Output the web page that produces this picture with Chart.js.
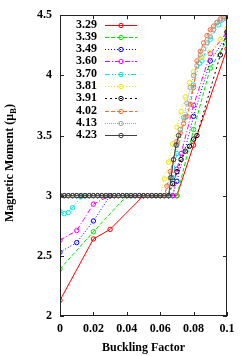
<!DOCTYPE html>
<html>
<head>
<meta charset="utf-8">
<script src="https://cdn.jsdelivr.net/npm/chart.js@4/dist/chart.umd.min.js"></script>
<style>
html, body { margin: 0; padding: 0; background: #fff; }
#wrap { width: 249px; height: 356px; }
</style>
</head>
<body>
<div id="wrap"><canvas id="c"></canvas></div>
<script>
// series labels (legend)
const labels = ['3.29', '3.39', '3.49', '3.60', '3.70', '3.81', '3.91', '4.02', '4.13', '4.23']

// tick values
const xTicks = [0, 0.02, 0.04, 0.06, 0.08, 0.1]
const yTicks = [2, 2.5, 3, 3.5, 4, 4.5]

// dense points along the plateau at 3 muB
const xFlat = [0, 0.0025, 0.005, 0.0075, 0.01, 0.0125, 0.015, 0.0175, 0.02, 0.0225, 0.025, 0.0275, 0.03,
    0.0325, 0.035, 0.0375, 0.04, 0.0425, 0.045, 0.0475, 0.05, 0.0525, 0.055, 0.0575, 0.06, 0.0625, 0.065]
const yFlat = [3, 3, 3, 3, 3, 3, 3, 3, 3, 3, 3, 3, 3, 3, 3, 3, 3, 3, 3, 3, 3, 3, 3, 3, 3, 3, 3]

const x329 = [0, 0.02, 0.03, 0.05, 0.07, 0.08, 0.1]
const y329 = [2.13, 2.64, 2.72, 3.0, 3.0, 3.42, 4.22]

const x339 = [0, 0.02, 0.04, 0.07, 0.08, 0.09, 0.1]
const y339 = [2.39, 2.70, 3.0, 3.0, 3.55, 4.06, 4.29]

const x349 = [0, 0.01, 0.02, 0.03, 0.0675, 0.07, 0.08, 0.09, 0.1]
const y349 = [2.53, 2.61, 2.79, 3.0, 3.0, 3.12, 3.66, 4.12, 4.33]

const x360 = [0, 0.01, 0.02, 0.03, 0.0675, 0.07, 0.0725, 0.08, 0.09, 0.1]
const y360 = [2.63, 2.71, 2.93, 3.0, 3.0, 3.22, 3.35, 3.75, 4.18, 4.36]

const x370 = [0, 0.0025, 0.005, 0.0075, 0.0125, 0.015, 0.065, 0.0675, 0.07, 0.075, 0.08, 0.0835, 0.085, 0.09, 0.095, 0.1]
const y370 = [2.87, 2.85, 2.86, 2.9, 2.99, 3.0, 3.0, 3.15, 3.35, 3.65, 3.92, 4.1, 4.12, 4.3, 4.42, 4.47]

const x381 = [0, 0.06, 0.0625, 0.065, 0.0675, 0.07, 0.0725, 0.075, 0.0775, 0.08, 0.085, 0.0895, 0.096, 0.1]
const y381 = [3.0, 3.0, 3.14, 3.28, 3.43, 3.57, 3.7, 3.82, 3.94, 4.03, 4.15, 4.19, 4.3, 4.39]

const x391 = xFlat.concat([0.0675, 0.07, 0.0725, 0.075, 0.0775, 0.08, 0.082, 0.096, 0.1])
const y391 = yFlat.concat([3.1, 3.2, 3.3, 3.37, 3.41, 3.47, 3.5, 4.17, 4.36])

const x402 = [0, 0.0625, 0.064, 0.066, 0.068, 0.07, 0.072, 0.074, 0.076, 0.078, 0.08, 0.082, 0.084, 0.086, 0.088, 0.09, 0.092, 0.094, 0.096, 0.098]
const y402 = [3.0, 3.0, 3.08, 3.2, 3.3, 3.45, 3.52, 3.6, 3.66, 3.76, 3.9, 4.12, 4.2, 4.27, 4.33, 4.38, 4.41, 4.44, 4.47, 4.49]

const x413 = [0, 0.063, 0.066, 0.068, 0.07, 0.072, 0.074, 0.076, 0.078, 0.08, 0.082, 0.084, 0.086, 0.088, 0.09, 0.092, 0.094, 0.096, 0.098, 0.1]
const y413 = [3.0, 3.0, 3.15, 3.3, 3.42, 3.55, 3.65, 3.77, 3.9, 4.0, 4.08, 4.17, 4.22, 4.27, 4.32, 4.38, 4.44, 4.46, 4.48, 4.5]

const x423 = xFlat.concat([0.0665, 0.068, 0.0695, 0.071])
const y423 = yFlat.concat([3.15, 3.3, 3.42, 3.5])

const xs = [x329, x339, x349, x360, x370, x381, x391, x402, x413, x423]
const ys = [y329, y339, y349, y360, y370, y381, y391, y402, y413, y423]

const colors = ['#ff0000', '#00e600', '#0000ff', '#ff00ff', '#00e8e8', '#e8e800', '#000000', '#ff6a30', '#a0a0a0', '#404040']
const dashes = [[], [4, 2], [1, 2], [5, 2, 1, 2], [5, 2, 1, 2, 1, 2], [1, 2], [2, 3], [4, 2], [1, 1], []]

const serif = "'Liberation Serif', 'DejaVu Serif', serif"

const toPoints = (xa, ya) => xa.map((x, i) => ({x: x, y: ya[i]}))

const datasets = labels.map((lab, i) => ({
    label: lab,
    data: toPoints(xs[i], ys[i]),
    borderColor: colors[i],
    backgroundColor: 'rgba(0,0,0,0)',
    pointBorderColor: colors[i],
    pointBackgroundColor: 'rgba(0,0,0,0)',
    borderWidth: 1,
    borderDash: dashes[i],
    pointRadius: 2.2,
    pointBorderWidth: 1,
    tension: 0,
    order: 10 - i
}))

const fmt = v => Number(v.toFixed(3)).toString()

// frame, inward ticks, titles and legend like gnuplot
const decor = {
    id: 'decor',
    afterDraw(chart) {
        const ctx = chart.ctx
        const a = chart.chartArea
        const sx = chart.scales.x
        const sy = chart.scales.y
        ctx.save()
        ctx.strokeStyle = '#222'
        ctx.lineWidth = 1
        ctx.setLineDash([])
        ctx.strokeRect(Math.round(a.left) + 0.5, Math.round(a.top) + 0.5, Math.round(a.right - a.left) - 1, Math.round(a.bottom - a.top) - 1)
        ctx.beginPath()
        xTicks.forEach(v => {
            const px = Math.round(sx.getPixelForValue(v)) + 0.5
            ctx.moveTo(px, a.bottom); ctx.lineTo(px, a.bottom - 4)
            ctx.moveTo(px, a.top); ctx.lineTo(px, a.top + 4)
        })
        yTicks.forEach(v => {
            const py = Math.round(sy.getPixelForValue(v)) + 0.5
            ctx.moveTo(a.left, py); ctx.lineTo(a.left + 4, py)
            ctx.moveTo(a.right, py); ctx.lineTo(a.right - 4, py)
        })
        ctx.stroke()

        // legend
        ctx.font = 'bold 12px ' + serif
        ctx.fillStyle = '#000'
        ctx.textBaseline = 'middle'
        ctx.textAlign = 'right'
        labels.forEach((lab, i) => {
            const y = 24.5 + i * 12.3
            ctx.fillText(lab, 97, y)
            ctx.strokeStyle = colors[i]
            ctx.setLineDash(dashes[i])
            ctx.beginPath()
            ctx.moveTo(105, Math.round(y) + 0.5)
            ctx.lineTo(137, Math.round(y) + 0.5)
            ctx.stroke()
            ctx.setLineDash([])
            ctx.beginPath()
            ctx.arc(121, Math.round(y) + 0.5, 2.2, 0, Math.PI * 2)
            ctx.stroke()
        })

        // x title
        ctx.fillStyle = '#000'
        ctx.textAlign = 'center'
        ctx.textBaseline = 'alphabetic'
        ctx.fillText('Buckling Factor', (a.left + a.right) / 2, 351)

        // y title with subscript
        ctx.translate(12.5, 163)
        ctx.rotate(-Math.PI / 2)
        const p1 = 'Magnetic Moment (\u03bc'
        const p2 = 'B'
        const p3 = ')'
        ctx.font = 'bold 12px ' + serif
        const w1 = ctx.measureText(p1).width
        const w3 = ctx.measureText(p3).width
        ctx.font = 'bold 9px ' + serif
        const w2 = ctx.measureText(p2).width
        let x0 = -(w1 + w2 + w3) / 2
        ctx.textAlign = 'left'
        ctx.font = 'bold 12px ' + serif
        ctx.fillText(p1, x0, 0)
        ctx.font = 'bold 9px ' + serif
        ctx.fillText(p2, x0 + w1, 3)
        ctx.font = 'bold 12px ' + serif
        ctx.fillText(p3, x0 + w1 + w2, 0)
        ctx.restore()
    }
}

new Chart(document.getElementById('c'), {
    type: 'line',
    data: {datasets: datasets},
    options: {
        responsive: true,
        maintainAspectRatio: false,
        animation: false,
        devicePixelRatio: 1,
        layout: {padding: {top: 15, right: 22, left: 0, bottom: 0}},
        plugins: {legend: {display: false}, tooltip: {enabled: false}},
        scales: {
            x: {
                type: 'linear',
                min: 0,
                max: 0.1,
                afterFit: s => { s.height = 40 },
                afterBuildTicks: s => { s.ticks = xTicks.map(v => ({value: v})) },
                grid: {display: false, drawTicks: false},
                border: {display: false},
                ticks: {
                    padding: 6,
                    maxRotation: 0,
                    color: '#000',
                    font: {family: serif, size: 12, weight: 'bold'},
                    callback: v => fmt(v)
                }
            },
            y: {
                type: 'linear',
                min: 2,
                max: 4.5,
                afterFit: s => { s.width = 60 },
                afterBuildTicks: s => { s.ticks = yTicks.map(v => ({value: v})) },
                grid: {display: false, drawTicks: false},
                border: {display: false},
                ticks: {
                    padding: 8,
                    color: '#000',
                    font: {family: serif, size: 12, weight: 'bold'},
                    callback: v => fmt(v)
                }
            }
        }
    },
    plugins: [decor]
})
</script>
</body>
</html>
